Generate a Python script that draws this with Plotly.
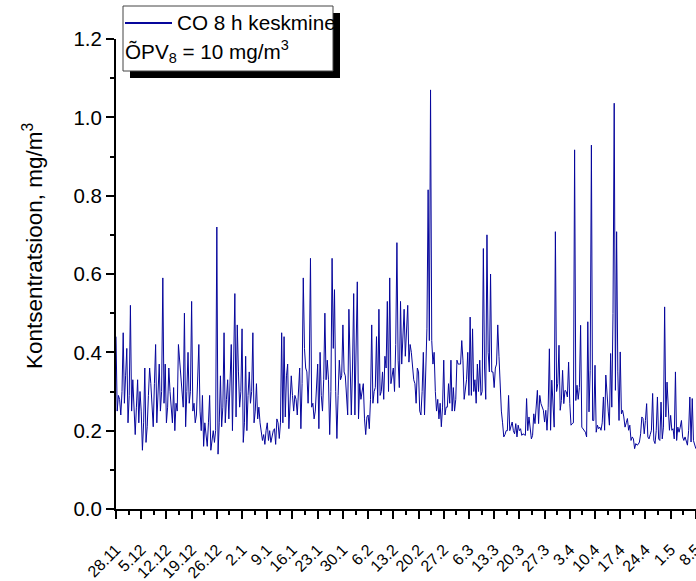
import pandas as pd
import plotly.graph_objects as go

# CO 8-hour means, one value every 8 hours from 28.11 00:00 onwards
start = pd.Timestamp("2006-11-28 00:00")
step = pd.Timedelta(hours=8)

co_nov_dec = [
    0.44, 0.25, 0.29, 0.28, 0.24, 0.30, 0.45, 0.27, 0.34, 0.41,
    0.22, 0.29, 0.52, 0.25, 0.33, 0.26, 0.19, 0.26, 0.33, 0.22,
    0.30, 0.25, 0.15, 0.22, 0.36, 0.17, 0.21, 0.29, 0.36, 0.32,
    0.27, 0.21, 0.32, 0.42, 0.22, 0.32, 0.37, 0.25, 0.30, 0.59,
    0.27, 0.37, 0.22, 0.26, 0.36, 0.30, 0.26, 0.22, 0.31, 0.20,
    0.27, 0.25, 0.42, 0.38, 0.34, 0.30, 0.26, 0.50, 0.21, 0.30,
    0.40, 0.27, 0.30, 0.53, 0.25, 0.27, 0.22, 0.24, 0.32, 0.42,
    0.25, 0.20, 0.29, 0.16, 0.22, 0.19, 0.16, 0.22, 0.29, 0.15,
    0.18, 0.20, 0.17, 0.20, 0.72, 0.14, 0.22, 0.34, 0.21, 0.26,
    0.45, 0.22, 0.28, 0.33, 0.23, 0.32, 0.42, 0.20, 0.40,
]
co_jan = [
    0.55, 0.235, 0.47, 0.35, 0.26, 0.30, 0.46, 0.17, 0.22, 0.39,
    0.20, 0.29, 0.35, 0.27, 0.30, 0.45, 0.22, 0.25, 0.32, 0.23,
    0.26, 0.22, 0.20, 0.175, 0.19, 0.165, 0.20, 0.22, 0.175, 0.20,
    0.17, 0.185, 0.20, 0.205, 0.165, 0.23, 0.22, 0.18, 0.22, 0.45,
    0.22, 0.44, 0.235, 0.34, 0.37, 0.205, 0.30, 0.34, 0.29, 0.25,
    0.29, 0.28, 0.24, 0.30, 0.36, 0.205, 0.32, 0.59, 0.41, 0.36,
    0.35, 0.27, 0.36, 0.64, 0.26, 0.27, 0.23, 0.25, 0.30, 0.37,
    0.205, 0.40, 0.29, 0.25, 0.33, 0.50, 0.33, 0.38, 0.33, 0.19,
    0.30, 0.64, 0.41, 0.56, 0.30, 0.18, 0.29, 0.38, 0.33, 0.34,
    0.47, 0.35, 0.34,
]
co_feb = [
    0.30, 0.24, 0.51, 0.35, 0.24, 0.36, 0.55, 0.24, 0.37, 0.58,
    0.23, 0.32, 0.28, 0.30, 0.32, 0.23, 0.19, 0.235, 0.24, 0.205,
    0.28, 0.47, 0.27, 0.30, 0.31, 0.44, 0.27, 0.51, 0.29, 0.30,
    0.35, 0.28, 0.39, 0.36, 0.53, 0.30, 0.59, 0.32, 0.34, 0.36,
    0.30, 0.42, 0.68, 0.38, 0.31, 0.53, 0.37, 0.44, 0.51, 0.39,
    0.48, 0.52, 0.375, 0.42, 0.40, 0.36, 0.33, 0.32, 0.27, 0.36,
    0.35, 0.25, 0.24, 0.30, 0.40, 0.24, 0.33, 0.46, 0.815, 0.43,
    1.07, 0.43, 0.37, 0.40, 0.30, 0.25, 0.28, 0.23, 0.27, 0.21,
    0.26, 0.38, 0.24, 0.26, 0.26, 0.32, 0.27, 0.38, 0.25, 0.31,
    0.25, 0.28, 0.38, 0.37, 0.37, 0.37,
]
co_mar = [
    0.43, 0.38, 0.28, 0.30, 0.33, 0.40, 0.29, 0.49, 0.29, 0.46,
    0.30, 0.33, 0.27, 0.37, 0.30, 0.38, 0.29, 0.30, 0.665, 0.36,
    0.28, 0.70, 0.40, 0.35, 0.60, 0.35, 0.35, 0.31, 0.36, 0.37,
    0.47, 0.39, 0.30, 0.25, 0.22, 0.184, 0.19, 0.20, 0.20, 0.29,
    0.20, 0.214, 0.222, 0.20, 0.192, 0.218, 0.184, 0.214, 0.20, 0.205,
    0.188, 0.192, 0.19, 0.188, 0.282, 0.20, 0.235, 0.20, 0.179, 0.188,
    0.243, 0.218, 0.252, 0.303, 0.218, 0.29, 0.269, 0.26, 0.252, 0.222,
    0.252, 0.201, 0.26, 0.409, 0.201, 0.329, 0.252, 0.209, 0.708, 0.30,
    0.32, 0.418, 0.252, 0.277, 0.354, 0.269, 0.303, 0.30, 0.286, 0.375,
    0.269, 0.214, 0.218, 0.22, 0.917, 0.277, 0.316,
]
co_apr_may = [
    0.28, 0.31, 0.469, 0.209, 0.205, 0.20, 0.196, 0.184, 0.478, 0.248,
    0.354, 0.929, 0.226, 0.226, 0.367, 0.196, 0.214, 0.205, 0.209, 0.201,
    0.22, 0.286, 0.201, 0.342, 0.277, 0.25, 0.214, 0.397, 0.26, 0.499,
    1.036, 0.303, 0.708, 0.35, 0.226, 0.401, 0.243, 0.252, 0.235, 0.209,
    0.22, 0.231, 0.201, 0.214, 0.175, 0.184, 0.179, 0.154, 0.167, 0.163,
    0.165, 0.171, 0.192, 0.235, 0.231, 0.192, 0.226, 0.269, 0.184, 0.179,
    0.19, 0.201, 0.295, 0.175, 0.167, 0.20, 0.286, 0.179, 0.175, 0.273,
    0.179, 0.209, 0.516, 0.235, 0.324, 0.25, 0.201, 0.239, 0.201, 0.205,
    0.179, 0.350, 0.175, 0.209, 0.196, 0.209, 0.226, 0.184, 0.175, 0.184,
    0.17, 0.163, 0.201, 0.286, 0.171, 0.282, 0.175, 0.167, 0.154,
]

x_tick_labels = [
    "28.11", "5.12", "12.12", "19.12", "26.12", "2.1", "9.1", "16.1",
    "23.1", "30.1", "6.2", "13.2", "20.2", "27.2", "6.3", "13.3",
    "20.3", "27.3", "3.4", "10.4", "17.4", "24.4", "1.5", "8.5",
]
y_ticks = [0.0, 0.2, 0.4, 0.6, 0.8, 1.0, 1.2]

co_values = co_nov_dec + co_jan + co_feb + co_mar + co_apr_may
times = [start + i * step for i in range(len(co_values))]
x_tick_vals = [start + pd.Timedelta(days=7 * k) for k in range(len(x_tick_labels))]
x_end = x_tick_vals[-1] + pd.Timedelta(hours=1)

FONT = "Liberation Sans, Arial, sans-serif"
W, H = 696, 581
ML, MR, MT, MB = 116, 0, 39, 72
PW, PH = W - ML - MR, H - MT - MB
LINE_BLUE = "#06069c"


def px(x):
    return (x - ML) / PW


def py(y):
    return (H - MB - y) / PH


fig = go.Figure()
fig.add_trace(go.Scatter(
    x=times, y=co_values, mode="lines",
    line=dict(color=LINE_BLUE, width=1),
    showlegend=False, hoverinfo="skip",
))

axis_common = dict(
    showgrid=False, zeroline=False, showline=True, linecolor="black",
    linewidth=2, ticks="outside", tickcolor="black", tickwidth=2,
    ticklen=8, automargin=False, mirror=False,
)

fig.update_xaxes(
    **axis_common,
    type="date", range=[start, x_end],
    tickmode="array", tickvals=x_tick_vals, ticktext=x_tick_labels,
    tickangle=-45, ticklabelstandoff=15, ticklabeloverflow="allow",
    tickfont=dict(family=FONT, size=16, color="black"),
    minor=dict(ticks="outside", ticklen=4, tickwidth=2, tickcolor="black",
               tick0=start + pd.Timedelta(hours=84), dtick=7 * 86400000),
)
fig.update_yaxes(
    **axis_common,
    range=[0, 1.2],
    tickmode="array", tickvals=y_ticks,
    ticktext=[f"{v:.1f}" for v in y_ticks],
    tickfont=dict(family=FONT, size=20.5, color="black"),
    minor=dict(ticks="outside", ticklen=4, tickwidth=2, tickcolor="black",
               tick0=0.1, dtick=0.2),
)

# legend box with drop shadow
shadow = 7
bx0, bx1, by0, by1 = 123, 333, 6, 71
fig.add_shape(type="rect", xref="paper", yref="paper",
              x0=px(bx0 + shadow), x1=px(bx1 + shadow),
              y0=py(by1 + shadow), y1=py(by0 + shadow),
              fillcolor="black", line=dict(width=0), layer="above")
fig.add_shape(type="rect", xref="paper", yref="paper",
              x0=px(bx0), x1=px(bx1), y0=py(by1), y1=py(by0),
              fillcolor="white", line=dict(color="#444444", width=1),
              layer="above")
fig.add_shape(type="line", xref="paper", yref="paper",
              x0=px(125), x1=px(172), y0=py(23), y1=py(23),
              line=dict(color=LINE_BLUE, width=2), layer="above")
fig.add_annotation(text="CO 8 h keskmine", xref="paper", yref="paper",
                   x=px(175), y=py(23), xanchor="left", yanchor="middle",
                   showarrow=False,
                   font=dict(family=FONT, size=20.7, color="black"))
fig.add_annotation(text="ÕPV<sub>8</sub> = 10 mg/m<sup>3</sup>",
                   xref="paper", yref="paper",
                   x=px(123), y=py(52), xanchor="left", yanchor="middle",
                   showarrow=False,
                   font=dict(family=FONT, size=20.7, color="black"))

# y-axis title
fig.add_annotation(text="Kontsentratsioon, mg/m<sup>3</sup>",
                   xref="paper", yref="paper",
                   x=px(33), y=py(246), xanchor="center", yanchor="middle",
                   textangle=-90, showarrow=False,
                   font=dict(family=FONT, size=22.5, color="black"))

fig.update_layout(
    width=W, height=H,
    margin=dict(l=ML, r=MR, t=MT, b=MB, pad=0),
    paper_bgcolor="white", plot_bgcolor="white",
    template="none",
)

fig.write_html("out.html")
